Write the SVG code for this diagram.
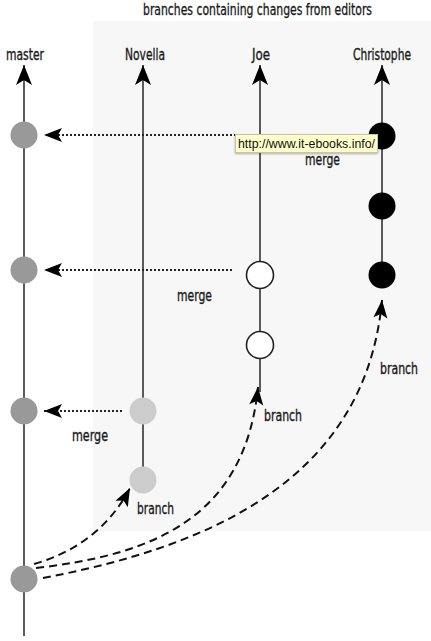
<svg xmlns="http://www.w3.org/2000/svg" width="431" height="641" viewBox="0 0 431 641">
<style>
.lbl{font-family:"Liberation Sans Narrow","DejaVu Sans Condensed","Liberation Sans",sans-serif;font-size:16px;fill:#1a1a1a;stroke:#1a1a1a;stroke-width:0.35}
.title{font-family:"Liberation Sans Narrow","DejaVu Sans Condensed","Liberation Sans",sans-serif;font-size:15px;fill:#1a1a1a;stroke:#1a1a1a;stroke-width:0.3}
.axis{stroke:#333;stroke-width:1.6;fill:none}
.dot{stroke:#222;stroke-width:2;stroke-dasharray:2 2;fill:none}
.dash{stroke:#111;stroke-width:2;stroke-dasharray:8 5;fill:none}
.m{fill:#999}
.n{fill:#ccc}
.c{fill:#000}
.j{fill:#fff;stroke:#222;stroke-width:1.6}
.tip{font-family:"Liberation Sans","DejaVu Sans",sans-serif;font-size:12px;fill:#111}
</style>
<defs>
<marker id="ah" viewBox="-21 -9 22 18" refX="0" refY="0" markerWidth="22" markerHeight="18" markerUnits="userSpaceOnUse" orient="auto">
<path d="M0,0 L-20,-8 L-15,0 L-20,8 Z" fill="#000"/>
</marker>
<marker id="ahs" viewBox="-19 -8 20 16" refX="0" refY="0" markerWidth="20" markerHeight="16" markerUnits="userSpaceOnUse" orient="auto">
<path d="M0,0 L-18,-7 L-14,0 L-18,7 Z" fill="#000"/>
</marker>
<filter id="sh" x="-10%" y="-30%" width="120%" height="170%">
<feDropShadow dx="0" dy="1" stdDeviation="1" flood-color="#000" flood-opacity="0.3"/>
</filter>
</defs>
<rect x="93" y="21" width="338" height="510" fill="#f7f7f7"/>
<text class="title" x="257.5" y="15" text-anchor="middle" textLength="229" lengthAdjust="spacingAndGlyphs">branches containing changes from editors</text>
<g id="labels">
<text class="lbl" x="6" y="60" textLength="38" lengthAdjust="spacingAndGlyphs">master</text>
<text class="lbl" x="125" y="60" textLength="40" lengthAdjust="spacingAndGlyphs">Novella</text>
<text class="lbl" x="252" y="60" textLength="18" lengthAdjust="spacingAndGlyphs">Joe</text>
<text class="lbl" x="353" y="60" textLength="58" lengthAdjust="spacingAndGlyphs">Christophe</text>
<text class="lbl" x="305" y="165" textLength="35" lengthAdjust="spacingAndGlyphs">merge</text>
<text class="lbl" x="177" y="301" textLength="35" lengthAdjust="spacingAndGlyphs">merge</text>
<text class="lbl" x="72" y="441" textLength="36" lengthAdjust="spacingAndGlyphs">merge</text>
<text class="lbl" x="137" y="514" textLength="37" lengthAdjust="spacingAndGlyphs">branch</text>
<text class="lbl" x="264" y="421" textLength="38" lengthAdjust="spacingAndGlyphs">branch</text>
<text class="lbl" x="380" y="374" textLength="38" lengthAdjust="spacingAndGlyphs">branch</text>
</g>
<g id="connectors">
<line class="axis" x1="24" y1="636" x2="24" y2="65" marker-end="url(#ah)"/>
<line class="axis" x1="143" y1="480" x2="143" y2="65" marker-end="url(#ah)"/>
<line class="axis" x1="260" y1="392" x2="260" y2="65" marker-end="url(#ah)"/>
<line class="axis" x1="382" y1="274" x2="382" y2="65" marker-end="url(#ah)"/>
<line class="dot" x1="368" y1="135" x2="44" y2="135" marker-end="url(#ahs)"/>
<line class="dot" x1="232" y1="270" x2="44" y2="270" marker-end="url(#ahs)"/>
<line class="dot" x1="122" y1="411" x2="44" y2="411" marker-end="url(#ahs)"/>
<path class="dash" d="M34,564 Q100,545 130,488" marker-end="url(#ahs)"/>
<path class="dash" d="M36,568 C150,555 245,520 258,387" marker-end="url(#ahs)"/>
<path class="dash" d="M43,578 C190,550 365,490 382,300" marker-end="url(#ahs)"/>
</g>
<g id="master-nodes">
<circle class="m" cx="24" cy="135" r="13.5"/>
<circle class="m" cx="24" cy="270" r="13.5"/>
<circle class="m" cx="24" cy="411" r="13.5"/>
<circle class="m" cx="24" cy="579" r="13.5"/>
</g>
<g id="novella-nodes">
<circle class="n" cx="143" cy="411" r="13.5"/>
<circle class="n" cx="143" cy="480" r="13.5"/>
</g>
<g id="joe-nodes">
<circle class="j" cx="260" cy="275" r="13.5"/>
<circle class="j" cx="260" cy="345" r="13.5"/>
</g>
<g id="christophe-nodes">
<circle class="c" cx="382" cy="136" r="13.5"/>
<circle class="c" cx="382" cy="206" r="13.5"/>
<circle class="c" cx="382" cy="275" r="13.5"/>
</g>
<g id="tooltip">
<rect x="235.5" y="134.5" width="142" height="18" fill="#ffffcc" stroke="#c8c8a0" stroke-width="1" filter="url(#sh)"/>
<text class="tip" x="238" y="148" textLength="137" lengthAdjust="spacingAndGlyphs">http://www.it-ebooks.info/</text>
</g>
</svg>
